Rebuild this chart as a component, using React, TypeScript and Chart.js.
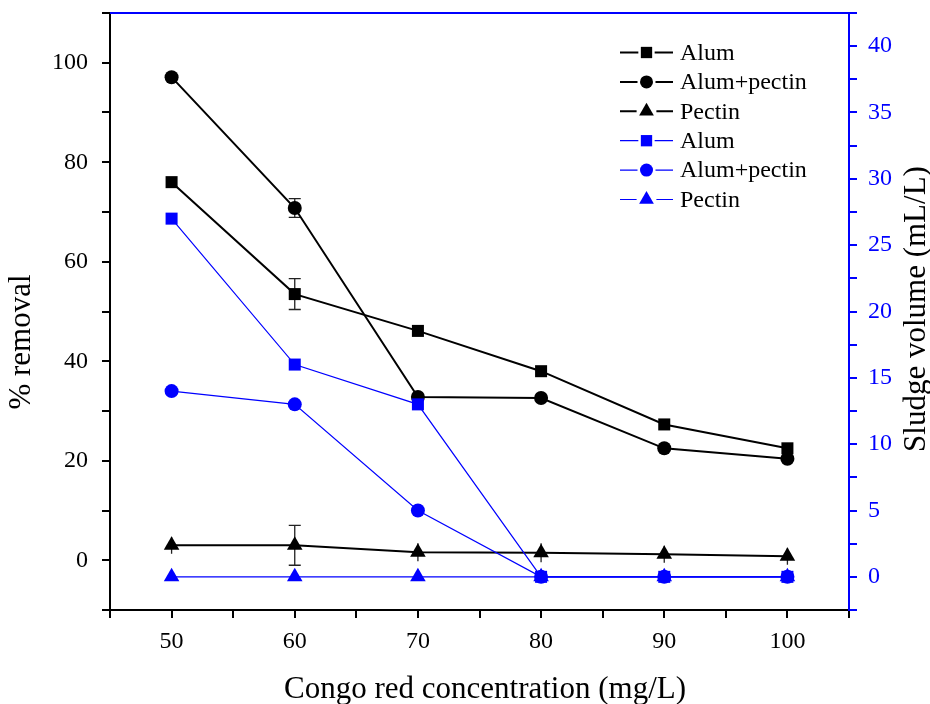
import React, { useEffect, useRef } from 'react';
import { Chart, registerables } from 'chart.js';

Chart.register(...registerables);

// ---------- data ----------
const concentrations = [50, 60, 70, 80, 90, 100];

const removalAlum = [76.0, 53.5, 46.1, 38.0, 27.3, 22.5];
const removalAlumErr = [0, 3.1, 0, 0, 0, 0];
const removalAlumPectin = [97.1, 70.8, 32.8, 32.6, 22.5, 20.4];
const removalAlumPectinErr = [0, 1.9, 0, 0, 0, 0];
const removalPectin = [3.0, 3.0, 1.6, 1.5, 1.2, 0.8];
const removalPectinErr = [1.7, 4.0, 1.8, 1.9, 1.7, 1.7];

const sludgeAlum = [27, 16, 13, 0, 0, 0];
const sludgeAlumPectin = [14, 13, 5, 0, 0, 0];
const sludgePectin = [0, 0, 0, 0, 0, 0];

const seriesLabels = ['Alum', 'Alum+pectin', 'Pectin'];
const xLabelValues = [50, 60, 70, 80, 90, 100];
const leftLabelValues = [0, 20, 40, 60, 80, 100];
const rightLabelValues = [0, 5, 10, 15, 20, 25, 30, 35, 40];

const xTitle = 'Congo red concentration (mg/L)';
const leftTitle = '% removal';
const rightTitle = 'Sludge volume (mL/L)';

// ---------- styles ----------
const FONT = '"Liberation Serif", "Times New Roman", serif';
const BLACK = '#000000';
const BLUE = '#0000ff';
const TICK_SIZE = 24;
const TITLE_SIZE = 31;

const toPoints = (ys: number[]) => concentrations.map((c, i) => ({ x: c, y: ys[i] }));
const near = (v: number, list: number[]) => list.some((t) => Math.abs(t - v) < 1e-6);

function drawMarker(ctx: CanvasRenderingContext2D, style: string, x: number, y: number, r: number, color: string) {
  ctx.save();
  ctx.fillStyle = color;
  ctx.beginPath();
  if (style === 'rect') {
    const s = r * Math.SQRT1_2;
    ctx.rect(x - s, y - s, 2 * s, 2 * s);
  } else if (style === 'circle') {
    ctx.arc(x, y, r, 0, Math.PI * 2);
  } else {
    const c = Math.cos(Math.PI / 6) * r;
    ctx.moveTo(x, y - r);
    ctx.lineTo(x + c, y + r / 2);
    ctx.lineTo(x - c, y + r / 2);
    ctx.closePath();
  }
  ctx.fill();
  ctx.restore();
}

const errorBarPlugin = {
  id: 'errorBars',
  beforeDatasetsDraw(chart: any) {
    const ctx = chart.ctx as CanvasRenderingContext2D;
    chart.data.datasets.forEach((ds: any, di: number) => {
      if (!ds.errorBars) return;
      const meta = chart.getDatasetMeta(di);
      const yScale = chart.scales[meta.yAxisID];
      const xScale = chart.scales.x;
      ds.data.forEach((p: any, i: number) => {
        const e = ds.errorBars[i];
        if (!e) return;
        const x = xScale.getPixelForValue(p.x);
        const y = yScale.getPixelForValue(p.y);
        const yt = yScale.getPixelForValue(p.y + e);
        const yb = yScale.getPixelForValue(p.y - e);
        const withCaps = Math.abs(yb - y) > ds.pointRadius + 1;
        ctx.save();
        ctx.strokeStyle = '#222';
        ctx.lineWidth = 1.3;
        ctx.beginPath();
        ctx.moveTo(x, yt);
        ctx.lineTo(x, yb);
        if (withCaps) {
          ctx.moveTo(x - 6, yt);
          ctx.lineTo(x + 6, yt);
          ctx.moveTo(x - 6, yb);
          ctx.lineTo(x + 6, yb);
        }
        ctx.stroke();
        ctx.restore();
      });
    });
  },
};

const decorPlugin = {
  id: 'decor',
  afterDraw(chart: any) {
    const ctx = chart.ctx as CanvasRenderingContext2D;
    const { left, right, top } = chart.chartArea;
    // top frame line
    ctx.save();
    ctx.strokeStyle = BLUE;
    ctx.lineWidth = 2;
    ctx.beginPath();
    ctx.moveTo(left, top);
    ctx.lineTo(right + 1, top);
    ctx.stroke();
    ctx.restore();

    // legend
    const x0 = 620;
    const x1 = 673;
    const xm = 646.5;
    chart.data.datasets.forEach((ds: any, i: number) => {
      const y = 52.5 + i * 29.4;
      const r = ds.pointRadius - 0.5;
      const half = ds.pointStyle === 'rect' ? r * Math.SQRT1_2 : ds.pointStyle === 'circle' ? r : r * 0.87;
      const gap = half + 2.5;
      ctx.save();
      ctx.strokeStyle = ds.borderColor;
      ctx.lineWidth = ds.borderWidth;
      ctx.beginPath();
      ctx.moveTo(x0, y);
      ctx.lineTo(xm - gap, y);
      ctx.moveTo(xm + gap, y);
      ctx.lineTo(x1, y);
      ctx.stroke();
      ctx.restore();
      drawMarker(ctx, ds.pointStyle, xm, y, r, ds.pointBackgroundColor);
      ctx.save();
      ctx.fillStyle = BLACK;
      ctx.font = `${TICK_SIZE}px ${FONT}`;
      ctx.textAlign = 'left';
      ctx.textBaseline = 'middle';
      ctx.fillText(ds.label, 680, y + 1);
      ctx.restore();
    });

    // axis titles
    ctx.save();
    ctx.fillStyle = BLACK;
    ctx.font = `${TITLE_SIZE}px ${FONT}`;
    ctx.textAlign = 'center';
    ctx.textBaseline = 'middle';
    ctx.fillText(xTitle, 485, 690);
    ctx.translate(22, 342);
    ctx.rotate(-Math.PI / 2);
    ctx.fillText(leftTitle, 0, 0);
    ctx.restore();

    ctx.save();
    ctx.fillStyle = BLACK;
    ctx.font = `${TITLE_SIZE}px ${FONT}`;
    ctx.textAlign = 'center';
    ctx.textBaseline = 'middle';
    ctx.translate(917, 309);
    ctx.rotate(-Math.PI / 2);
    ctx.fillText(rightTitle, 0, 0);
    ctx.restore();
  },
};

function makeSet(label: string, ys: number[], color: string, style: string, radius: number, axis: string, width: number, order: number, errs?: number[]) {
  return {
    label,
    data: toPoints(ys),
    yAxisID: axis,
    borderColor: color,
    backgroundColor: color,
    borderWidth: width,
    pointStyle: style,
    pointRadius: radius,
    pointBackgroundColor: color,
    pointBorderColor: color,
    pointBorderWidth: 0,
    pointHoverRadius: radius,
    tension: 0,
    fill: false,
    order,
    errorBars: errs,
  } as any;
}

const fitVertical = (w: number) => (s: any) => {
  s.width = w;
  s.paddingTop = 0;
  s.paddingBottom = 0;
};

export default function App() {
  const ref = useRef<HTMLCanvasElement>(null);

  useEffect(() => {
    document.body.style.margin = '0';
    const canvas = ref.current!;
    const chart = new Chart(canvas, {
      type: 'line',
      data: {
        datasets: [
          makeSet(seriesLabels[0], removalAlum, BLACK, 'rect', 8.5, 'y', 2, 1, removalAlumErr),
          makeSet(seriesLabels[1], removalAlumPectin, BLACK, 'circle', 7, 'y', 2, 1, removalAlumPectinErr),
          makeSet(seriesLabels[2], removalPectin, BLACK, 'triangle', 9, 'y', 2, 1, removalPectinErr),
          makeSet(seriesLabels[0], sludgeAlum, BLUE, 'rect', 8.5, 'y1', 1.2, 0),
          makeSet(seriesLabels[1], sludgeAlumPectin, BLUE, 'circle', 7, 'y1', 1.2, 0),
          makeSet(seriesLabels[2], sludgePectin, BLUE, 'triangle', 9, 'y1', 1.2, 0),
        ],
      },
      options: {
        responsive: false,
        animation: false,
        devicePixelRatio: 1,
        layout: { padding: { top: 13, left: 0, right: 0, bottom: 0 } },
        plugins: {
          legend: { display: false },
          tooltip: { enabled: false },
          title: { display: false },
        },
        scales: {
          x: {
            type: 'linear',
            position: 'bottom',
            min: 45,
            max: 105,
            afterFit: (s: any) => {
              s.height = 94;
              s.paddingLeft = 0;
              s.paddingRight = 0;
            },
            ticks: {
              stepSize: 5,
              autoSkip: false,
              maxRotation: 0,
              padding: 9,
              color: BLACK,
              font: { family: FONT, size: TICK_SIZE },
              callback: (v: any) => (near(Number(v), xLabelValues) ? String(v) : ''),
            },
            grid: { drawOnChartArea: false, drawTicks: true, tickLength: 8, color: BLACK, lineWidth: 2 },
            border: { display: true, color: BLACK, width: 2 },
          },
          y: {
            type: 'linear',
            position: 'left',
            min: -10,
            max: 110,
            afterFit: fitVertical(110),
            ticks: {
              stepSize: 10,
              autoSkip: false,
              padding: 14,
              color: BLACK,
              font: { family: FONT, size: TICK_SIZE },
              callback: (v: any) => (near(Number(v), leftLabelValues) ? String(v) : ''),
            },
            grid: { drawOnChartArea: false, drawTicks: true, tickLength: 8, color: BLACK, lineWidth: 2 },
            border: { display: true, color: BLACK, width: 2 },
          },
          y1: {
            type: 'linear',
            position: 'right',
            min: -2.5,
            max: 42.5,
            afterFit: fitVertical(81),
            ticks: {
              stepSize: 2.5,
              autoSkip: false,
              padding: 11,
              color: BLUE,
              font: { family: FONT, size: TICK_SIZE },
              callback: (v: any) => (near(Number(v), rightLabelValues) ? String(v) : ''),
            },
            grid: { drawOnChartArea: false, drawTicks: true, tickLength: 8, color: BLUE, lineWidth: 2 },
            border: { display: true, color: BLUE, width: 2 },
          },
        },
      },
      plugins: [errorBarPlugin, decorPlugin],
    });
    return () => chart.destroy();
  }, []);

  return (
    <div style={{ position: 'relative', width: 930, height: 704 }}>
      <canvas ref={ref} width={930} height={704} style={{ display: 'block', width: 930, height: 704 }} />
    </div>
  );
}
